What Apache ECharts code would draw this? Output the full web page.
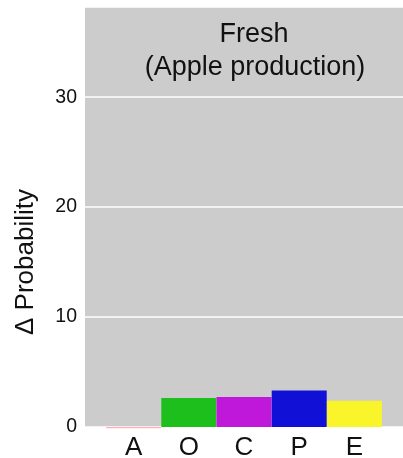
<!DOCTYPE html>
<html>
<head>
<meta charset="utf-8">
<script src="https://cdn.jsdelivr.net/npm/echarts@6/dist/echarts.min.js"></script>
<style>html,body{margin:0;padding:0;background:#fff;}#c{width:403px;height:458px;}</style>
</head>
<body>
<div id="c"></div>
<script>
var categories = ['A', 'O', 'C', 'P', 'E'];
var values = [-0.12, 2.64, 2.73, 3.33, 2.39];
var barColors = ['#ffb0b8', '#1dbf1d', '#c018da', '#1010d6', '#faf52a'];
var yTicks = [0, 10, 20, 30];
var titleLines = ['Fresh', '(Apple production)'];
var yName = '\u0394 Probability';

var FONT = 'Liberation Sans, Arial, sans-serif';
var chart = echarts.init(document.getElementById('c'));
var option = {
  animation: false,
  backgroundColor: '#ffffff',
  grid: {left: 85, right: 0, top: 7, height: 420, backgroundColor: '#cccccc', show: true, borderWidth: 0,
         containLabel: false, outerBoundsMode: 'none'},
  xAxis: {
    type: 'value', min: 0.12, max: 5.88,
    axisLine: {show: false}, axisTick: {show: false}, splitLine: {show: false},
    axisLabel: {
      customValues: categories.map(function (c, i) { return i + 1; }),
      formatter: function (v) { return categories[Math.round(v) - 1] || ''; },
      color: '#111', fontSize: 26, fontFamily: FONT, margin: 8
    }
  },
  yAxis: {
    type: 'value', min: 0, max: 38.2, interval: 10,
    axisLine: {show: false}, axisTick: {show: false},
    splitLine: {show: true, lineStyle: {color: '#ffffff', width: 1.5}},
    axisLabel: {
      customValues: yTicks,
      color: '#111', fontSize: 19.5, fontFamily: FONT, margin: 8,
      padding: [6, 0, 0, 0]
    }
  },
  series: [{
    type: 'bar',
    clip: false,
    barWidth: 55,
    data: values.map(function (v, i) {
      return {value: [i + 1, v], itemStyle: {color: barColors[i]}};
    })
  }],
  graphic: [
    {type: 'text', x: 254, y: 35, style: {text: titleLines[0], fill: '#111', font: '27px ' + FONT, textAlign: 'center', textVerticalAlign: 'middle'}},
    {type: 'text', x: 255, y: 68, style: {text: titleLines[1], fill: '#111', font: '27px ' + FONT, textAlign: 'center', textVerticalAlign: 'middle'}},
    {type: 'text', x: 26, y: 262, rotation: Math.PI / 2, style: {text: yName, fill: '#111', font: '26px ' + FONT, textAlign: 'center', textVerticalAlign: 'middle'}}
  ]
};
chart.setOption(option);
</script>
</body>
</html>
